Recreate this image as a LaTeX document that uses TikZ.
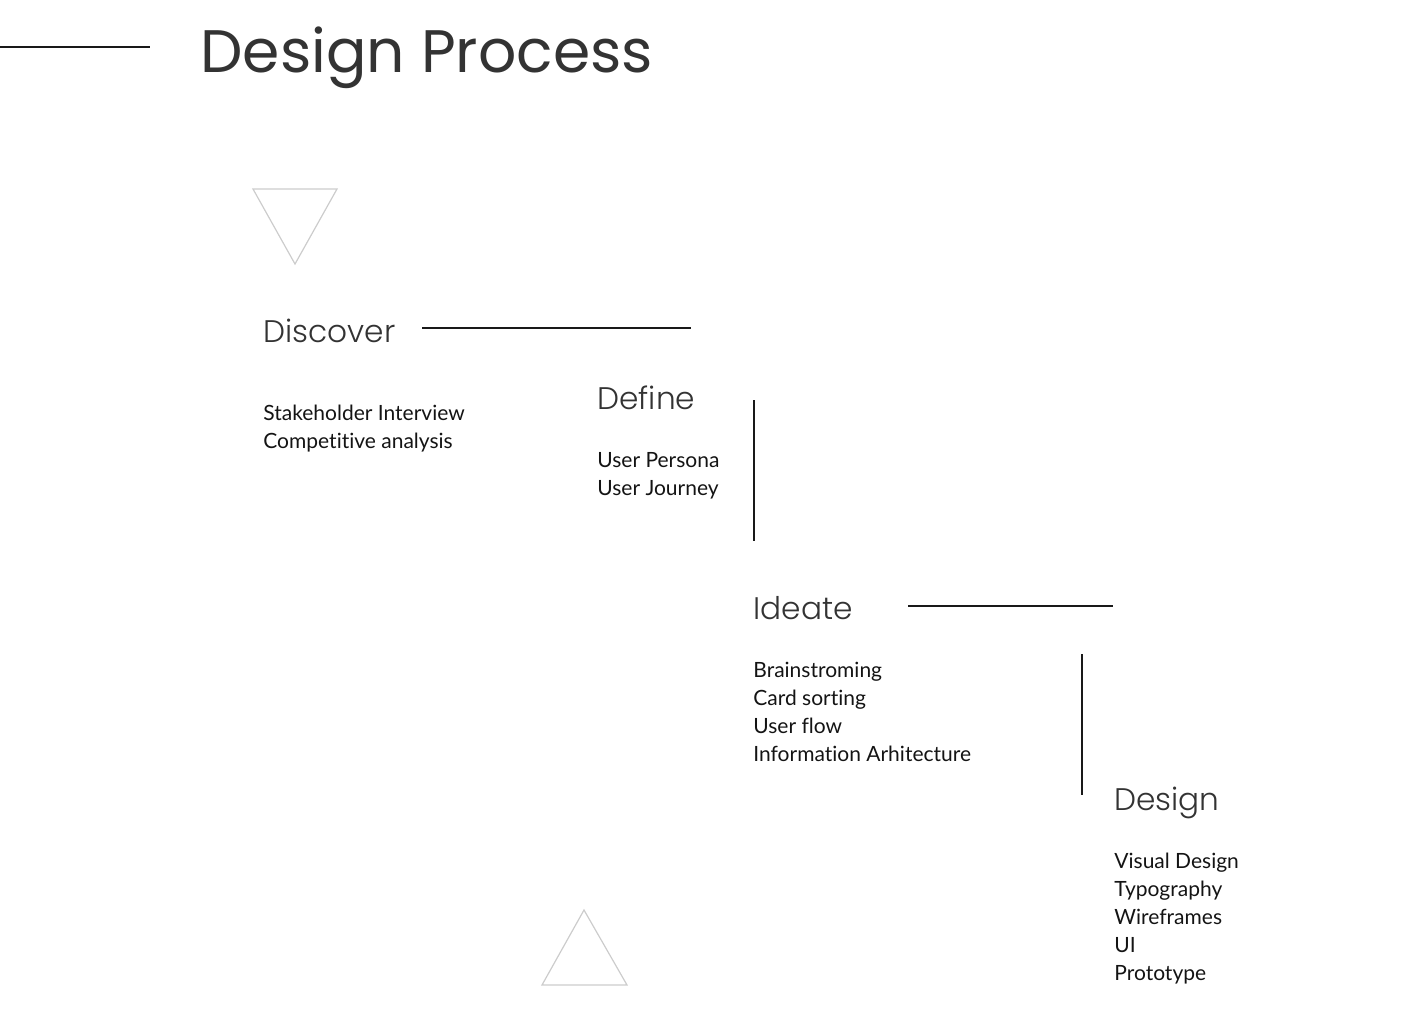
\documentclass[tikz,border=0pt]{standalone}
\usepackage{fontspec}
\setmainfont{Poppins}
\newfontfamily\headfont{Poppins}[UprightFont=* Light]
\newfontfamily\bodyfont{Lato}[Ligatures=NoCommon]
\definecolor{ink}{HTML}{333333}
\definecolor{tri}{HTML}{CCCCCC}
\begin{document}
\begin{tikzpicture}[x=0.5pt,y=-0.5pt,
  title/.style={anchor=base west,inner sep=0,text=ink,font=\fontsize{30}{36}\selectfont},
  head/.style={anchor=base west,inner sep=0,text=ink,font=\headfont\fontsize{15.6}{20}\selectfont},
  body/.style={anchor=base west,inner sep=0,text=black!92,font=\bodyfont\fontsize{10.5}{14}\selectfont},
  rule/.style={line width=1pt,draw=black!90},
  tristyle/.style={draw=tri,line width=0.6pt}]
\useasboundingbox (0,0) rectangle (1403,1028);
% title
\coordinate (tl0) at (0,47);
\coordinate (tl1) at (150,47);
\draw[rule] (tl0) -- (tl1);
\node[title] (title) at (200,72) {Design Process};
% triangles
\coordinate (ta) at (253,189); \coordinate (tb) at (337,189); \coordinate (tc) at (295,264);
\draw[tristyle] (ta) -- (tb) -- (tc) -- cycle;
\coordinate (ua) at (542,985); \coordinate (ub) at (627,985); \coordinate (uc) at (584,910);
\draw[tristyle] (ua) -- (ub) -- (uc) -- cycle;
% Discover
\node[head] (discover) at (263,342) {Discover};
\coordinate (d0) at (422,328); \coordinate (d1) at (691,328);
\draw[rule] (d0) -- (d1);
\node[body] (dl1) at (263,420) {Stakeholder Interview};
\node[body] (dl2) at (263,448) {Competitive analysis};
% Define
\node[head] (define) at (597,409) {Define};
\coordinate (e0) at (754,400); \coordinate (e1) at (754,541);
\draw[rule] (e0) -- (e1);
\node[body] (fl1) at (597,467) {User Persona};
\node[body] (fl2) at (597,495) {User Journey};
% Ideate
\node[head] (ideate) at (753,619) {Ideate};
\coordinate (i0) at (908,606); \coordinate (i1) at (1113,606);
\draw[rule] (i0) -- (i1);
\node[body] (il1) at (753,677) {Brainstroming};
\node[body] (il2) at (753,705) {Card sorting};
\node[body] (il3) at (753,733) {User flow};
\node[body] (il4) at (753,761) {Information Arhitecture};
\coordinate (v0) at (1082,654); \coordinate (v1) at (1082,795);
\draw[rule] (v0) -- (v1);
% Design
\node[head] (design) at (1114,810) {Design};
\node[body] (gl1) at (1114,868) {Visual Design};
\node[body] (gl2) at (1114,896) {Typography};
\node[body] (gl3) at (1114,924) {Wireframes};
\node[body] (gl4) at (1114,952) {UI};
\node[body] (gl5) at (1114,980) {Prototype};
\end{tikzpicture}
\end{document}
